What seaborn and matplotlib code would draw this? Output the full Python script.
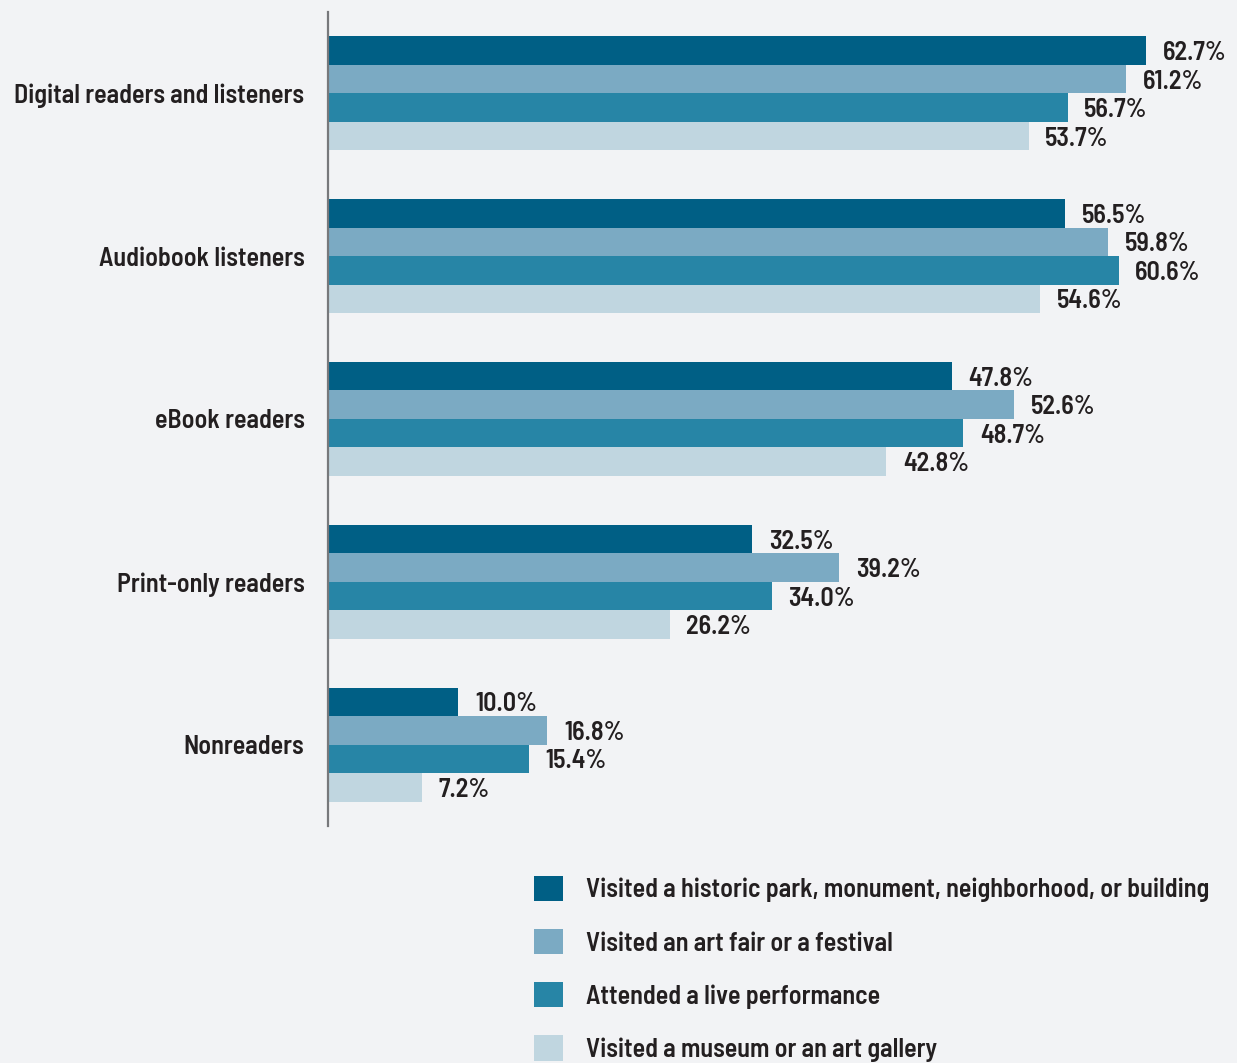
import matplotlib
matplotlib.use("Agg")
import matplotlib.pyplot as plt
import seaborn as sns
import pandas as pd

# Reader groups (top to bottom) and share of each group taking part in an activity (%)
groups = [
    "Digital readers and listeners",
    "Audiobook listeners",
    "eBook readers",
    "Print-only readers",
    "Nonreaders",
]
activities = [
    "Visited a historic park, monument, neighborhood, or building",
    "Visited an art fair or a festival",
    "Attended a live performance",
    "Visited a museum or an art gallery",
]
historic_park = [62.7, 56.5, 47.8, 32.5, 10.0]
art_fair = [61.2, 59.8, 52.6, 39.2, 16.8]
live_performance = [56.7, 60.6, 48.7, 34.0, 15.4]
museum = [53.7, 54.6, 42.8, 26.2, 7.2]

colors = ["#005F85", "#7BAAC3", "#2785A6", "#C0D6E0"]
bg = "#F2F3F5"
ink = "#231F20"

series = [historic_park, art_fair, live_performance, museum]
df = pd.DataFrame(
    [
        {"group": g, "activity": a, "pct": vals[i]}
        for a, vals in zip(activities, series)
        for i, g in enumerate(groups)
    ]
)

sns.set_theme(style="white")
plt.rcParams["font.family"] = ["Barlow Semi Condensed", "DejaVu Sans"]
plt.rcParams["font.weight"] = 600

FS = 18.8

fig = plt.figure(figsize=(12.37, 10.63), dpi=100, facecolor=bg)
ax = fig.add_axes([0.2652, 0.2230, 0.7276, 0.7657])
ax.set_facecolor(bg)

sns.barplot(
    data=df, y="group", x="pct", hue="activity",
    order=groups, hue_order=activities, palette=colors,
    orient="h", width=0.7, saturation=1, legend=False, ax=ax,
    edgecolor="none", linewidth=0,
)

for cont in ax.containers:
    labels = ax.bar_label(cont, fmt="%.1f%%", padding=12, fontsize=FS,
                          color=ink, fontweight=600)
    for t in labels:
        t.set_verticalalignment("center_baseline")

ax.set_xlim(0, 69)
ax.set_ylim(4.5, -0.5)
ax.set_xlabel("")
ax.set_ylabel("")
ax.set_xticks([])
ax.tick_params(axis="y", length=0, pad=17, labelsize=FS, labelcolor=ink)
for lbl in ax.get_yticklabels():
    lbl.set_fontweight(600)
for side in ("top", "right", "bottom"):
    ax.spines[side].set_visible(False)
ax.spines["left"].set_color("#77787B")
ax.spines["left"].set_linewidth(1.6)

handles = [plt.Rectangle((0, 0), 1, 1, facecolor=c, edgecolor="none") for c in colors]
fig.legend(
    handles, activities, loc="upper left",
    bbox_to_anchor=(534 / 1237, 1 - 876 / 1063),
    frameon=False, fontsize=FS, borderpad=0, borderaxespad=0,
    handlelength=1.11, handleheight=1.11, handletextpad=0.88,
    labelspacing=1.02, labelcolor=ink,
)

fig.savefig("out.png", dpi=100, facecolor=bg)
